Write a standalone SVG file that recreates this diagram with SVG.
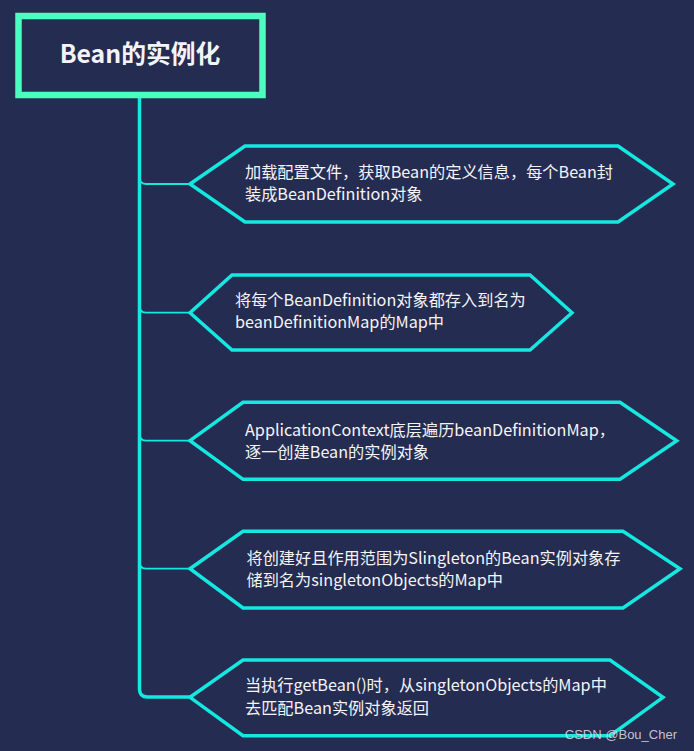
<svg xmlns="http://www.w3.org/2000/svg" width="694" height="751" viewBox="0 0 694 751">
<defs>
<style>
.hex{fill:none;stroke:#14e8e0;stroke-width:3.5;stroke-linejoin:miter}
.t{font-family:"Noto Sans CJK SC","Noto Sans",sans-serif;font-size:16.2px;fill:#f4f4f8}
.conn{fill:none;stroke:#14e8e0;stroke-linecap:butt}
</style>
</defs>
<rect x="0" y="0" width="694" height="751" fill="#252c51"/>
<g id="connectors">
<path class="conn" stroke-width="3.5" d="M139.5,98 L139.5,689 Q139.5,697 147.5,697 L190,697"/>
<path class="conn" stroke-width="1.8" d="M139.5,177 Q139.5,184 146.5,184 L190,184"/>
<path class="conn" stroke-width="1.8" d="M139.5,305.7 Q139.5,312.7 146.5,312.7 L190,312.7"/>
<path class="conn" stroke-width="1.8" d="M139.5,433.7 Q139.5,440.7 146.5,440.7 L190,440.7"/>
<path class="conn" stroke-width="1.8" d="M139.5,561.7 Q139.5,568.7 146.5,568.7 L190,568.7"/>
</g>
<g id="title">
<rect x="18.5" y="16" width="244" height="79" fill="#252c51" stroke="#4affc0" stroke-width="6.5"/>
<text x="140" y="62.5" text-anchor="middle" font-family="'Noto Sans CJK SC','Noto Sans',sans-serif" font-size="24.8" font-weight="bold" fill="#f4f4f8">Bean的实例化</text>
</g>
<g id="node1">
<polygon class="hex" points="190,184 245,146 618,146 673,184 618,222 245,222"/>
<text class="t" x="245" y="178">加载配置文件，获取Bean的定义信息，每个Bean封<tspan x="245" y="200">装成BeanDefinition对象</tspan></text>
</g>
<g id="node2">
<polygon class="hex" points="190,312.7 232,275 530,275 572,312.7 530,350 232,350"/>
<text class="t" x="235" y="306">将每个BeanDefinition对象都存入到名为<tspan x="235" y="328.3">beanDefinitionMap的Map中</tspan></text>
</g>
<g id="node3">
<polygon class="hex" points="190,440.7 243,402.3 620,402.3 676.7,440.7 620,479.3 243,479.3"/>
<text class="t" x="245" y="435.7">ApplicationContext底层遍历beanDefinitionMap，<tspan x="245" y="457.7">逐一创建Bean的实例对象</tspan></text>
</g>
<g id="node4">
<polygon class="hex" points="190,568.7 243,531.3 623,531.3 680,568.7 623,608 243,608"/>
<text class="t" x="246.5" y="563.7">将创建好且作用范围为Slingleton的Bean实例对象存<tspan x="246.5" y="585.7">储到名为singletonObjects的Map中</tspan></text>
</g>
<g id="node5">
<polygon class="hex" points="190,697.3 243,660 610,660 663,697.3 610,735.7 243,735.7"/>
<text class="t" x="245" y="691.3">当执行getBean()时，从singletonObjects的Map中<tspan x="245" y="713.6">去匹配Bean实例对象返回</tspan></text>
</g>
<text x="677" y="739" text-anchor="end" font-family="'Liberation Sans',Arial,sans-serif" font-size="13" fill="#d8d8de" fill-opacity="0.9">CSDN @Bou_Cher</text>
</svg>
